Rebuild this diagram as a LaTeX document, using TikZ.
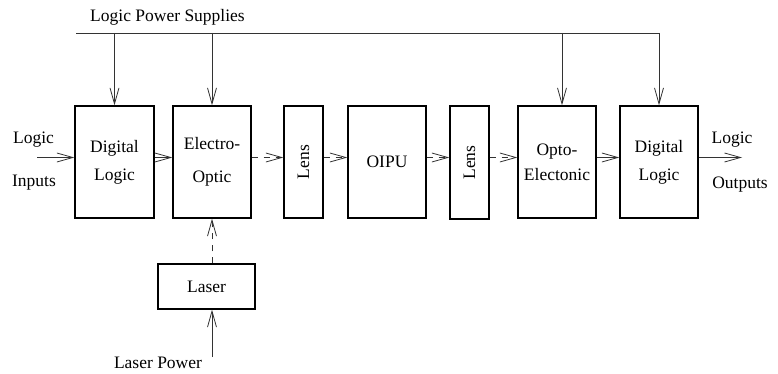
\documentclass[tikz,border=0pt]{standalone}
\usepackage{fontspec}
\setmainfont{Liberation Serif}
\usetikzlibrary{arrows.meta, positioning, calc}

\begin{document}
\begin{tikzpicture}[x=1pt, y=-1pt, font=\fontsize{17.5}{20}\selectfont,
  >={Straight Barb[length=16pt,width=9pt]},
  blk/.style={draw, line width=1.3pt, minimum width=78pt, minimum height=112pt, inner sep=0pt, align=center},
  lensbox/.style={blk, minimum width=39pt},
  wire/.style={black!80, line width=0.8pt},
  beam/.style={wire, dash pattern=on 6pt off 6pt}]
  \useasboundingbox (0,0) rectangle (778,374);
  % ---- processing chain ----
  \node[blk, minimum width=79pt] (dla) at (114.5,162) {Digital\\[8pt]Logic};
  \node[blk] (eo) at (212,162) {\raisebox{5pt}{\begin{tabular}{@{}c@{}}Electro-\\[13pt]Optic\end{tabular}}};
  \node[lensbox] (lensa) at (303.5,162) {\rotatebox{90}{Lens}};
  \node[blk] (oipu) at (387,162) {OIPU};
  \node[lensbox, minimum height=113pt] (lensb) at (469.5,162.5) {\rotatebox{90}{Lens}};
  \node[blk] (oe) at (557,162) {Opto-\\[5pt]Electonic};
  \node[blk] (dlb) at (659,162) {Digital\\[8pt]Logic};
  \node[draw, line width=1.3pt, minimum width=97pt, minimum height=45pt] (laser) at (206.5,286.5) {Laser};
  % ---- labels ----
  \node (lps) at (167.5,17) {Logic Power Supplies};
  \node (lin) at (33.5,140) {Logic};
  \node (inps) at (34,183) {Inputs};
  \node (lout) at (732,140) {Logic};
  \node (outs) at (740,185) {Outputs};
  \node (lpt) at (158,363) {Laser Power};
  % ---- signal path ----
  \coordinate (inp) at (37,157.5);
  \coordinate (outp) at (742,157.5);
  \draw[wire,->] (inp) -- (inp -| dla.west);
  \draw[wire,->] ([yshift=4.5pt]dla.east) -- ([yshift=4.5pt]eo.west);
  \draw[beam,->] ([yshift=4.5pt]eo.east) -- ([yshift=4.5pt]eo.east -| lensa.west);
  \draw[beam,->] ([yshift=4.5pt]lensa.east) -- ([yshift=4.5pt]lensa.east -| oipu.west);
  \draw[beam,->] ([yshift=4.5pt]oipu.east) -- ([yshift=4.5pt]oipu.east -| lensb.west);
  \draw[beam,->] ([yshift=4.5pt]oipu.east -| lensb.east) -- ([yshift=4.5pt]oe.west);
  \draw[wire,->] ([yshift=4.5pt]oe.east) -- ([yshift=4.5pt]dlb.west);
  \draw[wire,->] (outp -| dlb.east) -- (outp);
  % ---- logic power bus ----
  \coordinate (pwa) at (76,33);
  \coordinate (pwb) at (659,33);
  \draw[wire] (pwa) -- (pwb);
  \draw[wire,->] (pwb) -- (dlb.north);
  \draw[wire,->] (dla.north |- pwa) -- (dla.north);
  \draw[wire,->] (eo.north |- pwa) -- (eo.north);
  \draw[wire,->] ([xshift=5pt]oe.north |- pwa) -- ([xshift=5pt]oe.north);
  % ---- laser ----
  \coordinate (lpw) at (212,357);
  \draw[beam,->] (eo.south |- laser.north) -- (eo.south);
  \draw[wire,->] (lpw) -- (lpw |- laser.south);
\end{tikzpicture}
\end{document}
